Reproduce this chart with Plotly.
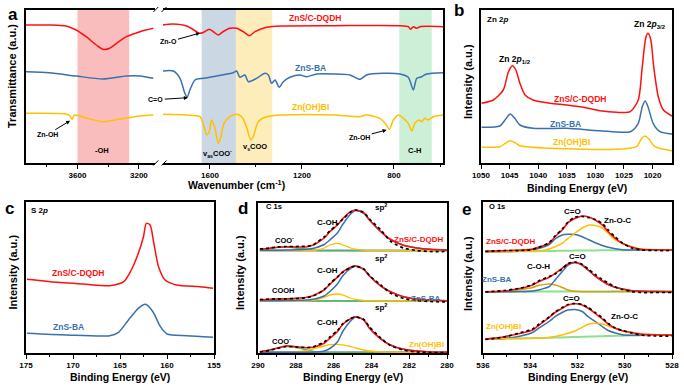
import plotly.graph_objects as go

RED = "#FF1010"
BLUE = "#3A70AE"
YEL = "#FFC000"
GOLD = "#D4A017"
GREEN = "#4DBB5A"
LAV = "#A8A8D8"
LGREEN = "#8EE08E"

# ---------------- Panel a : FTIR (two wavenumber segments) ----------------
A_TICKS_HI = [3600, 3200]
A_MINOR_HI = [3800, 3400]
A_TICKS_LO = [1600, 1200, 800]
A_MINOR_LO = [1400, 1000, 600]

A_HI_RED_WN = [3936, 3784, 3674, 3609, 3543, 3477, 3434, 3390, 3346, 3281, 3193, 3106]
A_HI_RED = [138, 138, 137, 133, 126.3, 118, 113.7, 114.7, 119.7, 126.3, 131.3, 134.7]
A_LO_RED_WN = [1807, 1760, 1701, 1658, 1646, 1629, 1603, 1586, 1564, 1542, 1513, 1484, 1455, 1429,
               1404, 1354, 1281, 1064, 774, 738, 728, 716, 701, 687, 586]
A_LO_RED = [138, 139, 137, 131.3, 129.7, 130.5, 133.7, 131.5, 128, 131.5, 134.7, 134.7, 131.3, 127.3,
            131.3, 135.7, 137, 137.3, 137.3, 136.3, 133.7, 136.3, 134.7, 136.3, 136.3]

A_HI_BLUE_WN = [3937, 3784, 3609, 3434, 3281, 3193, 3106]
A_HI_BLUE = [91.3, 90.3, 87, 84, 87, 87, 84.7]
A_LO_BLUE_WN = [1807, 1759, 1730, 1709, 1699, 1687, 1665, 1629, 1571, 1499, 1484, 1470, 1448, 1433,
                1397, 1361, 1346, 1332, 1317, 1299, 1281, 1252, 1209, 1180, 1136, 1064, 991, 948,
                919, 846, 774, 738, 716, 701, 680, 658, 586]
A_LO_BLUE = [92, 92, 84.7, 69.7, 65.7, 73, 83, 84.7, 87, 90.3, 92, 85.7, 88, 81.3,
             84.7, 89.7, 88, 79.7, 83, 75.7, 81.3, 85.7, 88, 86.3, 89, 89, 88, 83.7,
             88, 89.7, 89, 85.7, 73, 84.7, 86.3, 89, 90.3]

A_HI_YEL_WN = [3937, 3674, 3648, 3635, 3620, 3543, 3434, 3325, 3193, 3106]
A_HI_YEL = [49.7, 49, 47, 43.7, 48, 45, 41.3, 44, 47, 48]
A_LO_YEL_WN = [1807, 1701, 1643, 1626, 1614, 1603, 1593, 1578, 1564, 1554, 1539, 1513, 1484, 1462,
               1441, 1423, 1412, 1390, 1354, 1281, 1064, 948, 919, 861, 839, 820, 803, 781, 759,
               738, 723, 709, 690, 680, 665, 651, 629, 586]
A_LO_YEL = [48.7, 48, 46.3, 36.3, 28, 31.3, 43, 34.7, 19.7, 24.7, 39.7, 46.3, 48.7, 46.3,
            36.3, 23, 26.3, 41.3, 46.3, 48, 48, 46.3, 48, 44.7, 39.7, 33.7, 43, 48, 44.7,
            39.7, 32, 39.7, 43, 41.3, 44.7, 43, 46.3, 48]

A_BANDS = [("x", 3600, 3263, "#F9BDBD"), ("x2", 1636, 1487, "#CCD7E4"),
           ("x2", 1487, 1329, "#FDEDBB"), ("x2", 777, 636, "#CDEFD7")]

# ---------------- Panel b : Zn 2p ----------------
B_TICKS = [1050, 1045, 1040, 1035, 1030, 1025, 1020]
B_RED_E = [1049.9, 1047.85, 1046.1, 1045.2, 1044.5, 1043.9, 1043.2, 1042.3, 1040.9, 1037.9, 1035.0,
           1032.1, 1029.2, 1026.3, 1023.9, 1022.5, 1021.8, 1021.2, 1020.8, 1020.3, 1019.8, 1019.0,
           1018.1, 1016.6]
B_RED = [59.7, 63, 73, 91.3, 97.3, 93, 79.7, 68, 63, 59.7, 58, 55.7, 52.3, 50.7, 51.3, 63, 96.3,
         124.7, 129.7, 123, 96.3, 66.3, 53, 47]
B_BLUE_E = [1049.9, 1046.7, 1045.8, 1044.9, 1044.1, 1043.2, 1040.9, 1035.0, 1029.2, 1023.9, 1022.5,
            1021.8, 1021.3, 1020.8, 1019.9, 1018.7, 1016.6]
B_BLUE = [35.7, 37, 43, 49, 44.7, 38, 34.7, 34.7, 32.3, 31.3, 39.7, 56.3, 62, 56.3, 39.7, 31.3, 29]
B_YEL_E = [1049.9, 1046.7, 1045.8, 1044.9, 1044.1, 1043.2, 1037.9, 1026.3, 1022.8, 1021.9, 1021.3,
           1020.6, 1019.6, 1016.6]
B_YEL = [15.7, 16.3, 19.5, 22.3, 20.5, 17.3, 14.7, 13.7, 16.3, 24.7, 27, 23.7, 16.3, 12.3]

# ---------------- Panel c : S 2p ----------------
C_TICKS = [175, 170, 165, 160, 155]
C_MINOR = [172.5, 167.5, 162.5, 157.5]
C_RED_E = [174.9, 172.4, 168.9, 166.1, 164.6, 163.8, 163.05, 162.5, 162.2, 161.8, 161.4, 160.9,
           160.2, 159.0, 156.5, 155.1]
C_RED = [73.7, 71.3, 69, 67.3, 71.3, 83, 99.7, 116.3, 129.7, 128, 109.7, 86.3, 73, 68, 66.3, 64.7]
C_BLUE_E = [174.9, 170.7, 166.1, 165.2, 164.1, 163.05, 162.3, 161.5, 160.7, 160.0, 157.9, 155.1]
C_BLUE = [19.7, 18, 17.3, 20.3, 33, 44.7, 48.7, 41.3, 26.3, 19, 17.3, 15.7]

# ---------------- Panel d : C 1s ----------------
D_TICKS = [290, 288, 286, 284, 282, 280]
D_MINOR = [289, 287, 285, 283, 281]
D_E = [289.9, 289.4, 289.0, 288.5, 288.0, 287.4, 287.1, 286.9, 286.5, 286.2, 285.8, 285.5, 285.1,
       284.85, 284.4, 284.1, 283.5, 283.0, 282.3, 281.6, 280.9, 280.0]
D1_RED = [103.7, 104.7, 105.7, 106.3, 106, 106.3, 107.7, 109.7, 115, 121.3, 128, 134.7, 141.3, 143,
          140, 133, 121.3, 113.7, 107.7, 105, 103.7, 103]
D1_RAW = [104, 105, 106, 106.5, 106.5, 106.8, 108, 110.5, 116, 122, 128.5, 134, 141, 143, 140.5,
          134, 123, 112, 105, 102.5, 101.5, 101.5]
D1_SP2 = [102.7, 102.7, 102.8, 102.9, 103.2, 103.8, 104.5, 105.5, 108.5, 113, 120, 129, 139, 142.5,
          139.7, 133, 121.3, 113.7, 107.7, 105, 103.7, 103]
D1_COH = [102.5, 102.5, 102.5, 102.5, 102.5, 102.5, 102.5, 103, 105, 108, 109.7, 108, 105, 103.8,
          102.8, 102.5, 102.5, 102.5, 102.5, 102.5, 102.5, 102.5]
D1_COO = [102.8, 104, 105.3, 105.8, 105, 103.8, 103, 102.5, 102.5, 102.5, 102.5, 102.5, 102.5,
          102.5, 102.5, 102.5, 102.5, 102.5, 102.5, 102.5, 102.5, 102.5]
D1_BASE = [102.3] * 22

D2_RED = [53, 53.7, 54, 54.3, 54.7, 55.7, 57.3, 59, 63, 68.7, 75.7, 81.3, 85.7, 87, 83.7, 77, 67,
          61.3, 56.3, 54, 53, 52.3]
D2_RAW = [53.3, 54, 54.2, 54.2, 54.5, 55.5, 57, 58.5, 63.5, 69.5, 76, 81, 85.5, 87, 84, 77.5, 68,
          60, 54.5, 52.5, 51.5, 51]
D2_SP2 = [52.2, 52.2, 52.3, 52.4, 52.6, 53, 53.7, 54.5, 57, 61.5, 69, 77.5, 84.5, 86.7, 83.7, 77,
          67, 61.3, 56.3, 54, 53, 52.3]
D2_COH = [52, 52, 52, 52, 52, 52.2, 52.8, 53.5, 55.5, 58, 59, 57.8, 55, 53.6, 52.5, 52.1, 52, 52,
          52, 52, 52, 52]
D2_COOH = [52.5, 53.3, 53.6, 53.4, 52.9, 52.4, 52.1, 52, 52, 52, 52, 52, 52, 52, 52, 52, 52, 52,
           52, 52, 52, 52]
D2_BASE = [52] * 22

D3_RED = [1.3, 3, 4.7, 7.3, 6.3, 5.3, 5.7, 6.7, 9.7, 14.7, 21.3, 29, 34.3, 36.3, 33, 24.7, 14, 8,
          3.7, 2, 1, 0.7]
D3_RAW = [1, 2.5, 4.5, 6.5, 6, 5.5, 6, 7.5, 11, 16, 22.5, 29.5, 34.5, 36, 33.5, 26, 15, 7.5, 3, 1,
          0.5, 0.3]
D3_SP2 = [0.7, 0.7, 0.7, 0.7, 0.7, 0.7, 0.8, 1, 2, 4.5, 11, 22, 32, 36, 33, 24.7, 14, 8, 3.7, 2, 1,
          0.7]
D3_COH = [0.7, 0.7, 0.7, 0.8, 1.2, 2.5, 4, 5, 7, 8.3, 8.7, 8.2, 6.5, 5, 3, 2, 1, 0.8, 0.7, 0.7,
          0.7, 0.7]
D3_COO = [1.2, 3, 4.8, 6.3, 5.3, 3, 1.8, 1.2, 0.8, 0.7, 0.7, 0.7, 0.7, 0.7, 0.7, 0.7, 0.7, 0.7,
          0.7, 0.7, 0.7, 0.7]
D3_BASE = [0.8] * 22

# ---------------- Panel e : O 1s ----------------
E_TICKS = [536, 534, 532, 530, 528]
E_MINOR = [535, 533, 531, 529]
E_E = [535.9, 535.1, 534.4, 533.9, 533.65, 533.2, 532.95, 532.65, 532.4, 532.1, 531.8, 531.55,
       531.25, 530.95, 530.7, 530.4, 530.1, 529.7, 529.3, 528.7, 528.0]
E1_RED = [102, 102.3, 103, 104, 105.7, 109.7, 116.3, 123, 130.3, 134.7, 137, 136.3, 133, 128, 121.3,
          114.7, 109.7, 105.7, 103.7, 103.2, 103]
E1_RAW = [101.5, 102.5, 102.5, 103.5, 105.5, 110.5, 117, 124, 131, 136, 136.5, 135.5, 133.5, 129.5,
          123, 116, 110, 105, 103, 102.5, 102.5]
E1_CO = [101.3, 101.5, 102, 103.5, 104.5, 108.5, 114, 118, 118.7, 118.5, 116.3, 113.5, 110.3, 107.5,
         105.7, 104.2, 103.3, 103, 102.9, 103, 103]
E1_ZNOC = [101.3, 101.5, 101.7, 101.8, 102, 104, 106.3, 109.7, 114.7, 120, 125, 127.7, 127.5, 125,
           119.7, 113, 109.5, 106.3, 104, 103.2, 103]
E1_BASE = [101.3, 101.5, 101.7, 101.8, 101.9, 102, 102.1, 102.2, 102.3, 102.4, 102.5, 102.5, 102.6,
           102.7, 102.7, 102.8, 102.8, 102.9, 102.9, 103, 103]

E2_RED = [61.3, 62, 64.7, 68, 71.3, 75.7, 79.7, 84.7, 89, 90.7, 88, 83, 77, 72, 68.5, 65.7, 64,
          62.3, 61.7, 61.5, 61.3]
E2_RAW = [61, 62.5, 65, 68.5, 72, 76.5, 79, 84, 89.5, 91, 88.5, 84, 78.5, 73.5, 70, 66, 63.5, 61.5,
          60.5, 60.5, 60.5]
E2_CO = [61.3, 61.3, 61.5, 62, 63, 66.3, 73, 81.3, 88, 90.3, 88, 83, 77, 72, 68.5, 65.7, 64, 62.3,
         61.7, 61.5, 61.3]
E2_COH = [61.3, 61.5, 63.5, 65.5, 67.5, 69, 68, 65.5, 63, 61.7, 61.3, 61.3, 61.3, 61.3, 61.3, 61.3,
          61.3, 61.3, 61.3, 61.3, 61.3]
E2_BASE = [61.3, 61.3, 61.3, 61.3, 61.4, 61.4, 61.4, 61.5, 61.5, 61.5, 61.5, 61.6, 61.6, 61.6, 61.6,
           61.7, 61.7, 61.7, 61.8, 61.8, 61.8]

E3_RED = [14, 16.3, 19.7, 23, 27.5, 35.5, 40.5, 44.7, 48, 49.3, 48, 44.7, 39.7, 34, 29, 24.7, 22.3,
          20.5, 19, 18.3, 18]
E3_RAW = [13.5, 16, 20.5, 24, 28.5, 36, 41, 45.5, 48.5, 49.5, 48.5, 45.5, 40.5, 35, 29.5, 25, 22.5,
          20, 18, 17, 17]
E3_CO = [14, 14.5, 17, 20.5, 24.7, 31.5, 36.3, 40.5, 43, 43.5, 41.5, 36.3, 31.5, 26.5, 22.5, 20,
         18.3, 17.7, 17.7, 17.9, 18]
E3_ZNOC = [14, 14.3, 14.6, 14.8, 15, 15.5, 16.5, 18, 19.7, 22, 25.7, 28.7, 29.7, 29, 27, 24.7, 22,
           20, 18.5, 18, 18]
E3_BASE = [14, 14.3, 14.6, 14.8, 15, 15.2, 15.4, 15.6, 15.8, 16, 16.2, 16.4, 16.6, 16.8, 17, 17.2,
           17.3, 17.5, 17.7, 17.9, 18]

# ======================================================================
W, H = 684, 387


def fx(p):
    return p / W


def fy(p):
    return 1 - p / H


fig = go.Figure()


def line(x, y, color, ax, width=1.5, dash=None, spline=True):
    fig.add_trace(go.Scatter(
        x=x, y=y, mode="lines", xaxis="x" + ax, yaxis="y" + ax,
        line=dict(color=color, width=width, dash=dash,
                  shape="spline" if spline else "linear", smoothing=0.7),
        hoverinfo="skip", showlegend=False))


# panel a
line(A_HI_RED_WN, A_HI_RED, RED, "")
line(A_HI_BLUE_WN, A_HI_BLUE, BLUE, "")
line(A_HI_YEL_WN, A_HI_YEL, YEL, "")
line(A_LO_RED_WN, A_LO_RED, RED, "2")
line(A_LO_BLUE_WN, A_LO_BLUE, BLUE, "2")
line(A_LO_YEL_WN, A_LO_YEL, YEL, "2")
# panel b
line(B_RED_E, B_RED, RED, "3")
line(B_BLUE_E, B_BLUE, BLUE, "3")
line(B_YEL_E, B_YEL, YEL, "3")
# panel c
line(C_RED_E, C_RED, RED, "4")
line(C_BLUE_E, C_BLUE, BLUE, "4")
# panel d
for base, coo, coh, sp2, red, raw in [
        (D1_BASE, D1_COO, D1_COH, D1_SP2, D1_RED, D1_RAW),
        (D2_BASE, D2_COOH, D2_COH, D2_SP2, D2_RED, D2_RAW),
        (D3_BASE, D3_COO, D3_COH, D3_SP2, D3_RED, D3_RAW)]:
    line(D_E, base, LAV, "5", width=2.2)
    line(D_E, coo, GREEN, "5", width=1.3)
    line(D_E, coh, YEL, "5", width=1.3)
    line(D_E, sp2, BLUE, "5", width=1.5)
    line(D_E, red, RED, "5", width=1.6)
    line(D_E, raw, "black", "5", width=1.7, dash="dot")
# panel e
for base, comps, red, raw in [
        (E1_BASE, [(E1_CO, BLUE), (E1_ZNOC, YEL)], E1_RED, E1_RAW),
        (E2_BASE, [(E2_COH, GOLD), (E2_CO, BLUE)], E2_RED, E2_RAW),
        (E3_BASE, [(E3_CO, BLUE), (E3_ZNOC, YEL)], E3_RED, E3_RAW)]:
    line(E_E, base, LGREEN, "6", width=2)
    for c, col in comps:
        line(E_E, c, col, "6", width=1.5)
    line(E_E, red, RED, "6", width=1.6)
    line(E_E, raw, "black", "6", width=1.7, dash="dot")

# ---------------- axes ----------------
TF = dict(size=8, color="black", weight="bold")


def xax(dom, rng, ticks, minor=None, mirror=True):
    d = dict(domain=dom, range=rng, showline=True, linecolor="black", linewidth=1.5,
             mirror=mirror, ticks="outside", ticklen=4, tickwidth=1.2, tickcolor="black",
             tickmode="array", tickvals=ticks, showgrid=False, zeroline=False,
             tickfont=TF, fixedrange=True, automargin=False)
    if minor:
        d["minor"] = dict(tickmode="array", tickvals=minor, ticks="outside", ticklen=2.5,
                          tickwidth=1, tickcolor="black", showgrid=False)
    return d


def yax(dom, rng, anchor, mirror=True, side="left"):
    return dict(domain=dom, range=rng, anchor=anchor, showline=True, linecolor="black",
                linewidth=1.5, mirror=mirror, side=side, ticks="", showticklabels=False,
                showgrid=False, zeroline=False, fixedrange=True, automargin=False)


TOPA, BOTA = fy(9.5), fy(163)
layout = dict(
    width=W, height=H, margin=dict(l=0, r=0, t=0, b=0),
    paper_bgcolor="white", plot_bgcolor="rgba(0,0,0,0)", showlegend=False,
    font=dict(family="Liberation Sans, Arial, sans-serif", size=8, color="black", weight="bold"),
    xaxis=xax([fx(26), fx(155)], [3935, 3095], A_TICKS_HI, A_MINOR_HI),
    yaxis=yax([BOTA, TOPA], [0, 153.5], "x", mirror=False),
    xaxis2=xax([fx(163), fx(443)], [1804, 587], A_TICKS_LO, A_MINOR_LO),
    yaxis2=yax([BOTA, TOPA], [0, 153.5], "x2", mirror=False, side="right"),
    xaxis3=xax([fx(481), fx(672)], [1050, 1016.6], B_TICKS),
    yaxis3=yax([BOTA, TOPA], [0, 153.5], "x3"),
    xaxis4=xax([fx(26), fx(214)], [175, 155], C_TICKS, C_MINOR),
    yaxis4=yax([fy(353), fy(202)], [0, 151], "x4"),
    xaxis5=xax([fx(258), fx(447)], [290, 280], D_TICKS, D_MINOR),
    yaxis5=yax([fy(353), fy(203)], [0, 150], "x5"),
    xaxis6=xax([fx(483), fx(672)], [536, 528], E_TICKS, E_MINOR),
    yaxis6=yax([fy(353), fy(202)], [0, 151], "x6"),
)
for i in ["", "2", "3", "4", "5", "6"]:
    layout["xaxis" + i]["anchor"] = "y" + i
fig.update_layout(**layout)

# ---------------- shapes ----------------
shapes = []
for xr, x0, x1, col in A_BANDS:
    shapes.append(dict(type="rect", xref=xr, yref=("y" if xr == "x" else "y2") + " domain",
                       x0=x0, x1=x1, y0=0, y1=1, fillcolor=col, line=dict(width=0),
                       layer="below"))
for (xa, ya, xb, yb) in [(153.3, 165.5, 158.3, 160.5), (161.5, 165.5, 166.5, 160.5),
                         (153.3, 12, 158.3, 7), (161.5, 12, 166.5, 7)]:
    shapes.append(dict(type="line", xref="paper", yref="paper", x0=fx(xa), y0=fy(ya),
                       x1=fx(xb), y1=fy(yb), line=dict(color="black", width=1)))
fig.update_layout(shapes=shapes)

# ---------------- annotations ----------------
ann = []


def txt(t, x, y, ax="", size=8, color="black", xanchor="center"):
    ann.append(dict(text=t, x=x, y=y, xref="x" + ax, yref="y" + ax, showarrow=False,
                    font=dict(size=size, color=color), xanchor=xanchor, yanchor="middle"))


def arrow(t, x, y, dx, dy, ax=""):
    ann.append(dict(text=t, x=x, y=y, xref="x" + ax, yref="y" + ax, showarrow=True,
                    ax=dx, ay=dy, arrowhead=2, arrowsize=0.8, arrowwidth=1,
                    arrowcolor="black", font=dict(size=7, color="black")))


def ptxt(t, x, y, size, angle=0):
    ann.append(dict(text=t, x=fx(x), y=fy(y), xref="paper", yref="paper", showarrow=False,
                    font=dict(size=size, color="black"), textangle=angle,
                    xanchor="center", yanchor="middle"))


# panel a
txt("ZnS/C-DQDH", 1143, 145, "2", 8.5, RED)
txt("ZnS-BA", 1165, 95, "2", 8.5, BLUE)
txt("Zn(OH)BI", 1165, 56, "2", 8.5, YEL)
txt("-OH", 3443, 13, "", 7.5)
txt("v<sub>as</sub>COO<sup>-</sup>", 1565, 10, "2", 7.5)
txt("v<sub>s</sub>COO", 1404, 16, "2", 7.5)
txt("C-H", 709, 13, "2", 7.5)
arrow("Zn-O", 1643, 130, -32, 9, "2")
arrow("C=O", 1696, 65.3, -32, 2, "2")
arrow("Zn-OH", 3648, 42.3, -23, 14, "")
arrow("Zn-OH", 832, 33, -27, 7, "2")
# panel b
txt("Zn 2<i>p</i>", 1049.3, 143, "3", 8, "black", "left")
txt("Zn 2<i>p</i><sub>1/2</sub>", 1044.05, 103, "3", 8.5)
txt("Zn 2<i>p</i><sub>3/2</sub>", 1020.5, 138, "3", 8.5)
txt("ZnS/C-DQDH", 1032.7, 64, "3", 8.5, RED)
txt("ZnS-BA", 1035.3, 39, "3", 8.5, BLUE)
txt("Zn(OH)BI", 1034.1, 21, "3", 8.5, YEL)
# panel c
txt("S 2<i>p</i>", 174.7, 143, "4", 8, "black", "left")
txt("ZnS/C-DQDH", 169.5, 80, "4", 8.5, RED)
txt("ZnS-BA", 170.5, 26, "4", 8.5, BLUE)
# panel d
txt("C 1s", 289.7, 147, "5", 7.5, "black", "left")
for v_sp, v_coh in [(146.3, 130.7), (94.7, 82.3), (45.7, 30.3)]:
    txt("sp<sup>2</sup>", 283.5, v_sp, "5", 8)
    txt("C-OH", 286.3, v_coh, "5", 8)
txt("COO<sup>-</sup>", 288.6, 113, "5", 7.5)
txt("COOH", 288.65, 63, "5", 7.5)
txt("COO<sup>-</sup>", 288.75, 12.3, "5", 7.5)
txt("ZnS/C-DQDH", 281.5, 113.7, "5", 8, RED)
txt("ZnS-BA", 281.1, 54.7, "5", 8, BLUE)
txt("Zn(OH)BI", 281.1, 9, "5", 8, YEL)
# panel e
txt("O 1s", 535.85, 146.3, "6", 7.5, "black", "left")
txt("C=O", 532.2, 141.3, "6", 8)
txt("Zn-O-C", 530.3, 132.3, "6", 8)
txt("ZnS/C-DQDH", 534.8, 111.3, "6", 8, RED)
txt("C=O", 532.0, 97, "6", 8)
txt("C-O-H", 533.66, 86.3, "6", 8)
txt("ZnS-BA", 535.4, 73.7, "6", 8, BLUE)
txt("C=O", 532.25, 54.7, "6", 8)
txt("Zn-O-C", 530.0, 36.3, "6", 8)
txt("Zn(OH)BI", 535.14, 27, "6", 8, YEL)

# axis titles & panel letters
ptxt("Wavenumber (cm<sup>-1</sup>)", 236, 184.5, 10.5)
ptxt("Binding Energy (eV)", 577, 188, 10.5)
ptxt("Binding Energy (eV)", 120, 377, 10.5)
ptxt("Binding Energy (eV)", 353, 377, 10.5)
ptxt("Binding Energy (eV)", 578, 377, 10.5)
ptxt("Transmittance (a.u.)", 12, 76, 11, -90)
ptxt("Intensity (a.u.)", 468, 82, 11, -90)
ptxt("Intensity (a.u.)", 12.5, 272, 11, -90)
ptxt("Intensity (a.u.)", 240, 273, 11, -90)
ptxt("Intensity (a.u.)", 468, 274, 11, -90)
ptxt("a", 12.5, 15, 17)
ptxt("b", 459, 11, 17)
ptxt("c", 9, 208, 17)
ptxt("d", 243, 208, 17)
ptxt("e", 466, 209, 17)

fig.update_layout(annotations=ann)
fig.write_html("out.html", config={"displayModeBar": False},
               post_script="document.body.style.margin='0';document.body.style.overflow='hidden';")
